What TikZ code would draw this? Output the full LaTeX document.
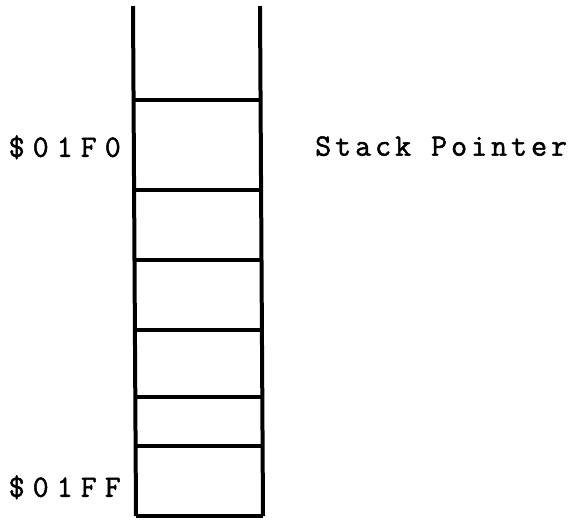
\documentclass[tikz,border=0pt]{standalone}
\usepackage{fontspec}
\newfontfamily\stackmono[LetterSpace=26,FakeBold=1.6]{Latin Modern Mono}
\newfontfamily\notemono[LetterSpace=13,FakeBold=1.6]{Latin Modern Mono}
\tikzset{
  wall/.style={line width=4pt, line cap=butt},
  slot/.style={line width=3.6pt},
  addr/.style={font=\stackmono\fontsize{31}{31}\selectfont, anchor=east, inner sep=0pt, text depth=0pt},
  note/.style={font=\notemono\fontsize{31}{31}\selectfont, anchor=west, inner sep=0pt, text depth=0pt}
}
\begin{document}
\begin{tikzpicture}[x=1pt,y=-1pt]
  \useasboundingbox (0,0) rectangle (570,520);
  % stack column walls (slightly skewed, as printed)
  \coordinate (lt) at (133,6);
  \coordinate (lb) at (136,516);
  \coordinate (rt) at (260,6);
  \coordinate (rb) at (263,516);
  \draw[wall] (lt) -- (lb);
  \draw[wall] (rt) -- (rb);
  % slot dividers
  \foreach \y in {100,190,260,330,397,446} {
    \draw[slot] ({133+3*(\y-6)/510},\y) -- ({260+3*(\y-6)/510},\y);
  }
  \draw[slot] (lb) -- (rb);
  % labels
  \node[addr] (top) at (121,146) {\$01F0};
  \node[addr] (bot) at (121,486) {\$01FF};
  \node[note] (sp) at (315,146) {Stack Pointer};
\end{tikzpicture}
\end{document}
